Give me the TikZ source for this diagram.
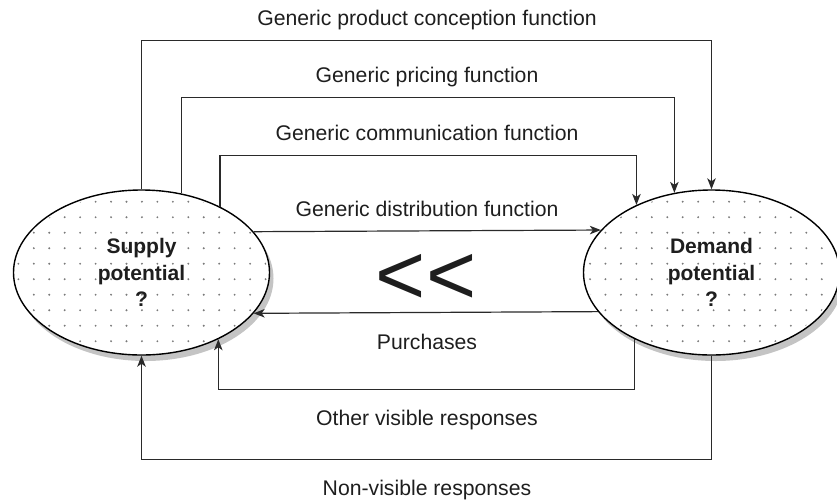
\documentclass[tikz,border=0pt]{standalone}
\usepackage{fontspec}
\setmainfont{Liberation Sans}
\usetikzlibrary{shapes.geometric,arrows.meta}
\definecolor{ink}{HTML}{1E1E1E}
\definecolor{linec}{HTML}{2A2A2A}
\definecolor{shadowc}{HTML}{C4C4C4}
\definecolor{dotc}{HTML}{7A7A7A}
\begin{document}
\begin{tikzpicture}[x=1pt,y=-1pt,
  lbl/.style={anchor=base, font=\fontsize{21.2}{25}\selectfont, text=ink, inner sep=0pt},
  pot/.style={ellipse, draw=black, line width=1.4pt, fill=white, minimum width=256pt, minimum height=165pt, inner sep=0pt},
  pottext/.style={align=center, font=\bfseries\fontsize{21}{26.5}\selectfont, text=ink, inner sep=0pt},
  shade/.style={ellipse, fill=shadowc, minimum width=256pt, minimum height=165pt, inner sep=0pt},
  conn/.style={draw=linec, line width=1.2pt},
  arr/.style={conn, -{Stealth[length=11pt,width=8.5pt,inset=3pt]}},
  dot/.style={fill=dotc}
]
\useasboundingbox (0,0) rectangle (837,499);

% shadows
\node[shade] (Ls) at (145.5,278.5) {};
\node[shade] (Ds) at (715.5,278.5) {};

% ellipses
\node[pot] (L) at (141.5,272.5) {};
\node[pot] (D) at (711.5,272.5) {};

% dotted fill
\begin{scope}
  \clip (141.5,272.5) ellipse [x radius=126, y radius=80.5];
  \foreach \i in {0,...,18}{\foreach \j in {0,...,12}{
    \fill[dot] (2.9+15.45*\i,170.7+15.5*\j) circle[radius=1.05];}}
\end{scope}
\begin{scope}
  \clip (711.5,272.5) ellipse [x radius=125.5, y radius=80.5];
  \foreach \i in {36,...,54}{\foreach \j in {0,...,12}{
    \fill[dot] (2.9+15.45*\i,170.7+15.5*\j) circle[radius=1.05];}}
\end{scope}

\node[pottext] (Lt) at (141.5,272.5) {Supply\\potential\\?};
\node[pottext] (Dt) at (711.5,272.5) {Demand\\potential\\?};

% helper levels
\coordinate (yA) at (0,40.7);
\coordinate (yB) at (0,97.7);
\coordinate (yC) at (0,155.5);
\coordinate (yF) at (0,389.3);
\coordinate (yG) at (0,459.3);

% connectors
\draw[arr] (L.north) -- (L.north |- yA) -| (D.north);
\draw[arr] (L.63.6) -- (L.63.6 |- yB) -| (D.115.1);
\draw[arr] (L.40.4) -- (L.40.4 |- yC) -| (D.138.4);
\draw[arr] (L.20.1) -- (D.159.7);
\draw[arr] (D.199.9) -- (L.340.2);
\draw[arr] (D.221.6) -- (D.221.6 |- yF) -| (L.319.6);
\draw[arr] (D.south) -- (D.south |- yG) -| (L.south);

% labels
\node[lbl] (tA) at (427,25.3) {Generic product conception function};
\node[lbl] (tB) at (427,82.3) {Generic pricing function};
\node[lbl] (tC) at (427,140) {Generic communication function};
\node[lbl] (tD) at (427,216.7) {Generic distribution function};
\node[lbl] (tE) at (427,349) {Purchases};
\node[lbl] (tF) at (427,425) {Other visible responses};
\node[lbl] (tG) at (427,495) {Non-visible responses};
\node[anchor=base, font=\fontsize{86}{86}\selectfont, text=ink, inner sep=0pt] (ll) at (426,304) {<\kern0pt<};
\end{tikzpicture}
\end{document}
